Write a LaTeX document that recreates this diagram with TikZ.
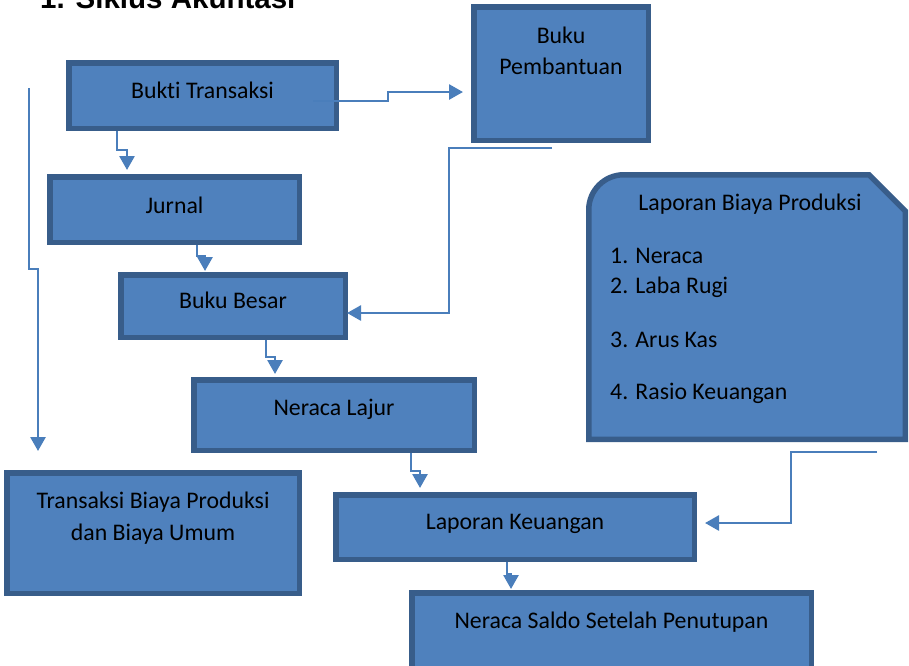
\documentclass[tikz,border=0pt]{standalone}
\usepackage{fontspec}
\setmainfont{Carlito}[Ligatures=NoCommon]
\newfontfamily\titlefont{Liberation Sans}
\usetikzlibrary{arrows.meta,calc}
\definecolor{boxfill}{HTML}{4F81BD}
\definecolor{boxborder}{HTML}{385D8A}
\definecolor{connc}{HTML}{4A7EBB}
\tikzset{
  box/.style={draw=boxborder, fill=boxfill, line width=5.5pt, inner sep=0pt, outer sep=2.75pt},
  shapebox/.style={draw=boxborder, fill=boxfill, line width=5.5pt, line join=miter},
  lbl/.style={anchor=base, inner sep=0pt, text=black, font=\fontsize{23.8}{28}\selectfont},
  lbll/.style={anchor=base west, inner sep=0pt, text=black, font=\fontsize{23.8}{28}\selectfont},
  conn/.style={draw=connc, line width=2.7pt, line join=miter, -{Triangle[length=14pt,width=15pt]}},
}
\begin{document}
\begin{tikzpicture}[x=1pt,y=-1pt]
\useasboundingbox (0,0) rectangle (909,665);
\clip (0,0) rectangle (909,665);

% title
\node[anchor=base west, inner sep=0pt, font={\titlefont\bfseries\fontsize{29.5}{32}\selectfont}] (title) at (40,8) {1. Siklus Akuntasi};

% boxes
\node[box, minimum width=267.5pt, minimum height=65.5pt] (bukti) at (202.5,95.5) {};
\node[box, minimum width=249.5pt, minimum height=65.5pt] (jurnal) at (174.5,209.5) {};
\node[box, minimum width=174.5pt, minimum height=133.5pt] (pemb) at (561,73.5) {};
\node[box, minimum width=224.5pt, minimum height=62.5pt] (besar) at (233,306) {};
\node[box, minimum width=280.5pt, minimum height=70.5pt] (lajur) at (334,415) {};
\node[box, minimum width=358.5pt, minimum height=64.5pt] (lapkeu) at (515,527) {};
\node[box, minimum width=399.5pt, minimum height=94.5pt] (saldo) at (611.5,640) {};
\node[box, minimum width=292.5pt, minimum height=120.5pt] (trans) at (153,533) {};

% Laporan Biaya Produksi shape
\draw[shapebox] (588.75,439.25) -- (588.75,209.75)
  arc[start angle=180, end angle=270, radius=35]
  -- (869,174.75) -- (905.25,211) -- (905.25,439.25) -- cycle;
\coordinate (lbp) at (747,307);

% texts
\node[lbl] (tbukti) at (202.5,98) {Bukti Transaksi};
\node[lbl] (tjurnal) at (174.5,213) {Jurnal};
\node[lbl] (tpemb1) at (561,43) {Buku};
\node[lbl] (tpemb2) at (561,74) {Pembantuan};
\node[lbl] (tbesar) at (233,308) {Buku Besar};
\node[lbl] (tlajur) at (334,415) {Neraca Lajur};
\node[lbl] (tlapkeu) at (515,529) {Laporan Keuangan};
\node[lbl] (tsaldo) at (611.5,628) {Neraca Saldo Setelah Penutupan};
\node[lbl] (ttrans1) at (153,508) {Transaksi Biaya Produksi};
\node[lbl] (ttrans2) at (153,540) {dan Biaya Umum};
\node[lbl] (tlbp) at (750,210) {Laporan Biaya Produksi};
\node[lbll] (l1) at (610,263) {1. Neraca};
\node[lbll] (l2) at (610,293) {2. Laba Rugi};
\node[lbll] (l3) at (610,347) {3. Arus Kas};
\node[lbll] (l4) at (610,399) {4. Rasio Keuangan};

% connectors
\draw[conn] ($(bukti.east)+(-26,5.5)$) -- (388,101) -- (388,92) -- ($(pemb.west)+(-8,18.5)$);
\draw[conn] ($(bukti.south)+(-85.5,0)$) -- (117,150) -- (127,150) -- ($(jurnal.north)+(-47.5,-4)$);
\draw[conn] ($(jurnal.south)+(22.5,0)$) -- (197,256) -- (205,256) -- ($(besar.north)+(-28,-1)$);
\draw[conn] ($(besar.south)+(33,0)$) -- (266,357) -- (275,357) -- ($(lajur.north)+(-59,-3)$);
\draw[conn] ($(lajur.south)+(77,0)$) -- (411,471) -- (420,471) -- ($(lapkeu.north)+(-95,-4)$);
\draw[conn] ($(lapkeu.south)+(-8,0)$) -- (507,574) -- (511,574) -- ($(saldo.north)+(-100.5,-1)$);
\coordinate (c7s) at (552,148);
\draw[conn] (c7s) -- (449,148) -- (449,313) -- ($(besar.east)+(-1,7)$);
\coordinate (c8s) at (877,452);
\draw[conn] (c8s) -- (791,452) -- (791,523) -- ($(lapkeu.east)+(8,-4)$);
\coordinate (c9s) at (29,88);
\coordinate (c9e) at (38,451);
\draw[conn] (c9s) -- (29,269) -- (38,269) -- (c9e);
\end{tikzpicture}
\end{document}
